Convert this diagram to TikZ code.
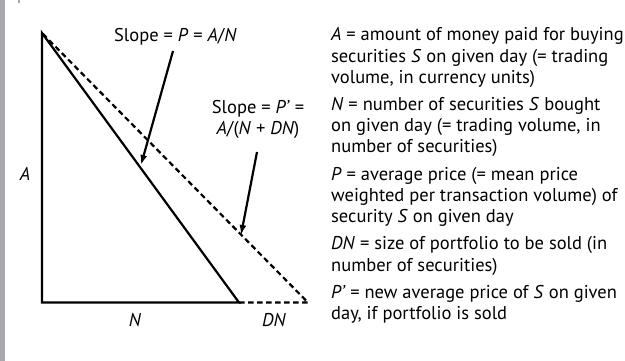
\documentclass[tikz,border=0pt]{standalone}
\usepackage{fontspec}
\setmainfont{PT Sans}
\usetikzlibrary{arrows.meta}
\definecolor{strip}{HTML}{A7A9AC}
\tikzset{
  geom/.style={line width=2.2pt, line join=miter},
  dashline/.style={line width=2.2pt, dash pattern=on 5.5pt off 3.5pt},
  pointer/.style={line width=2.2pt, -{Latex[length=10pt,width=7pt]}},
  lbl/.style={inner sep=0pt, font=\fontsize{18.5}{21.3}\selectfont},
  desc/.style={lbl, align=left, anchor=base west},
}
\begin{document}
\begin{tikzpicture}[x=1pt,y=-1pt]
\useasboundingbox (0,0) rectangle (625,361);
\fill[white] (0,0) rectangle (625,361);
\fill[strip] (0,0) rectangle (5,361);
\draw[strip, line width=1.5pt] (19,0) -- (19,3);
% triangle
\coordinate (T) at (42,33);
\coordinate (BL) at (42,302.5);
\coordinate (BR) at (239,302.5);
\coordinate (DR) at (308,302.5);
\draw[geom] (T) -- (BL) -- (BR) -- cycle;
\draw[dashline] (BR) -- (DR) -- (T);
% labels
\node[lbl, anchor=base] (s1) at (175.5,41.5) {Slope = \textit{P} = \textit{A}/\textit{N}};
\node[lbl, align=center, anchor=base] (s2) at (258,135) {Slope = \textit{P’} =\\\textit{A}/(\textit{N} + \textit{DN})};
\node[lbl, anchor=base] (la) at (25,180) {\textit{A}};
\node[lbl, anchor=base] (ln) at (135,326) {\textit{N}};
\node[lbl, anchor=base] (ldn) at (274,326) {\textit{DN}};
% pointers
\coordinate (a1s) at (173,51);
\coordinate (a1e) at (141,165);
\coordinate (a2s) at (257,152);
\coordinate (a2e) at (241,235);
\draw[pointer] (a1s) -- (a1e);
\draw[pointer] (a2s) -- (a2e);
% descriptions (anchored at the baseline of the last line)
\node[desc] (dA) at (331,83.6) {\textit{A} = amount of money paid for buying\\securities \textit{S} on given day (= trading\\volume, in currency units)};
\node[desc] (dN) at (331,153) {\textit{N} = number of securities \textit{S} bought\\on given day (= trading volume, in\\number of securities)};
\node[desc] (dP) at (331,222.6) {\textit{P} = average price (= mean price\\weighted per transaction volume) of\\security \textit{S} on given day};
\node[desc] (dDN) at (331,271) {\textit{DN} = size of portfolio to be sold (in\\number of securities)};
\node[desc] (dPp) at (331,319.6) {\textit{P’} = new average price of \textit{S} on given\\day, if portfolio is sold};
\end{tikzpicture}
\end{document}
